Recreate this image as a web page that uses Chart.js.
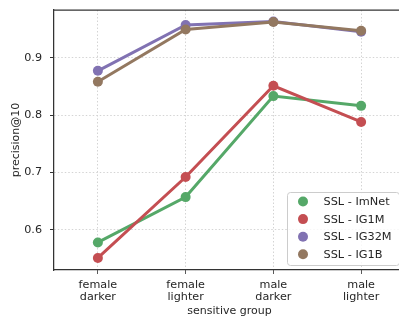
<!DOCTYPE html>
<html>
<head>
<meta charset="utf-8">
<script src="https://cdn.jsdelivr.net/npm/chart.js@4"></script>
<style>
  html, body { margin: 0; padding: 0; overflow: hidden; background: #fff; }
  #wrap { width: 410px; height: 322px; }
</style>
</head>
<body>
<div id="wrap"><canvas id="chart" width="410" height="322"></canvas></div>
<script>
// categories on the x axis
const groups = [["female", "darker"], ["female", "lighter"], ["male", "darker"], ["male", "lighter"]];

// precision@10 per model
const imnet = [0.578, 0.657, 0.833, 0.816];
const ig1m  = [0.551, 0.692, 0.851, 0.788];
const ig32m = [0.877, 0.957, 0.963, 0.945];
const ig1b  = [0.858, 0.949, 0.962, 0.947];

const seriesNames = ["SSL - ImNet", "SSL - IG1M", "SSL - IG32M", "SSL - IG1B"];
const seriesColors = ["#55a868", "#c44e52", "#8172b2", "#937860"];
const yTicks = [0.6, 0.7, 0.8, 0.9];

const textColor = "#262626";
const fontFam = "'DejaVu Sans', sans-serif";

const allSeries = [imnet, ig1m, ig32m, ig1b];
const datasets = allSeries.map(function (vals, i) {
  return {
    label: seriesNames[i],
    data: vals,
    borderColor: seriesColors[i],
    backgroundColor: seriesColors[i],
    borderWidth: 3,
    pointRadius: 5,
    pointHoverRadius: 5,
    pointBorderWidth: 0,
    tension: 0,
    order: 3 - i
  };
});

// legend drawn inside the plot, lower right
const insideLegend = {
  id: "insideLegend",
  afterDraw(chart) {
    const ctx = chart.ctx;
    const area = chart.chartArea;

    // top spine
    ctx.save();
    ctx.strokeStyle = "#333";
    ctx.lineWidth = 1.25;
    ctx.beginPath();
    ctx.moveTo(area.left, area.top);
    ctx.lineTo(area.right, area.top);
    ctx.stroke();

    const w = 112, h = 73;
    const x = area.right - 118, y = area.bottom - 5 - h;
    ctx.fillStyle = "rgba(255,255,255,0.8)";
    ctx.strokeStyle = "#cccccc";
    ctx.lineWidth = 1;
    ctx.beginPath();
    ctx.roundRect(x + 0.5, y + 0.5, w, h, 3);
    ctx.fill();
    ctx.stroke();

    ctx.font = "11.3px " + fontFam;
    ctx.textBaseline = "middle";
    ctx.textAlign = "left";
    for (let i = 0; i < seriesNames.length; i++) {
      const ry = y + 9.5 + i * 17.6;
      ctx.fillStyle = seriesColors[i];
      ctx.beginPath();
      ctx.arc(x + 16, ry, 5, 0, Math.PI * 2);
      ctx.fill();
      ctx.fillStyle = textColor;
      ctx.fillText(seriesNames[i], x + 36.5, ry + 0.5);
    }
    ctx.restore();
  }
};

new Chart(document.getElementById("chart"), {
  type: "line",
  data: { labels: groups, datasets: datasets },
  plugins: [insideLegend],
  options: {
    responsive: false,
    devicePixelRatio: 1,
    animation: false,
    layout: { padding: { top: 10, right: 5, left: 0, bottom: 0 } },
    plugins: { legend: { display: false }, tooltip: { enabled: false } },
    scales: {
      x: {
        type: "category",
        offset: true,
        afterFit(scale) {
          scale.height = 52;
          scale.paddingLeft = 0;
          scale.paddingRight = 0;
        },
        grid: {
          color: "#d4d4d4",
          lineWidth: 1,
          tickColor: "#333",
          tickLength: 4,
          tickWidth: 1,
          tickBorderDash: [1, 0]
        },
        border: { color: "#333", width: 1.25, dash: [1.5, 2] },
        ticks: {
          color: textColor,
          font: { family: fontFam, size: 11.2, lineHeight: 1.08 },
          padding: 5,
          maxRotation: 0,
          autoSkip: false
        },
        title: {
          display: true,
          text: "sensitive group",
          color: textColor,
          font: { family: fontFam, size: 11 },
          padding: { top: 4, bottom: 4 }
        }
      },
      y: {
        min: 0.53,
        max: 0.983,
        afterFit(scale) {
          scale.width = 54;
          scale.paddingTop = 0;
          scale.paddingBottom = 0;
        },
        afterBuildTicks(scale) {
          scale.ticks = yTicks.map(function (v) { return { value: v }; });
        },
        grid: {
          color: "#d4d4d4",
          lineWidth: 1,
          tickColor: "#333",
          tickLength: 4,
          tickWidth: 1,
          tickBorderDash: [1, 0]
        },
        border: { color: "#333", width: 1.25, dash: [1.5, 2] },
        ticks: {
          color: textColor,
          font: { family: fontFam, size: 11.2 },
          padding: 8,
          callback: function (v) { return v.toFixed(1); }
        },
        title: {
          display: true,
          text: "precision@10",
          color: textColor,
          font: { family: fontFam, size: 11 },
          padding: { top: 10, bottom: 4 }
        }
      }
    }
  }
});
</script>
</body>
</html>
